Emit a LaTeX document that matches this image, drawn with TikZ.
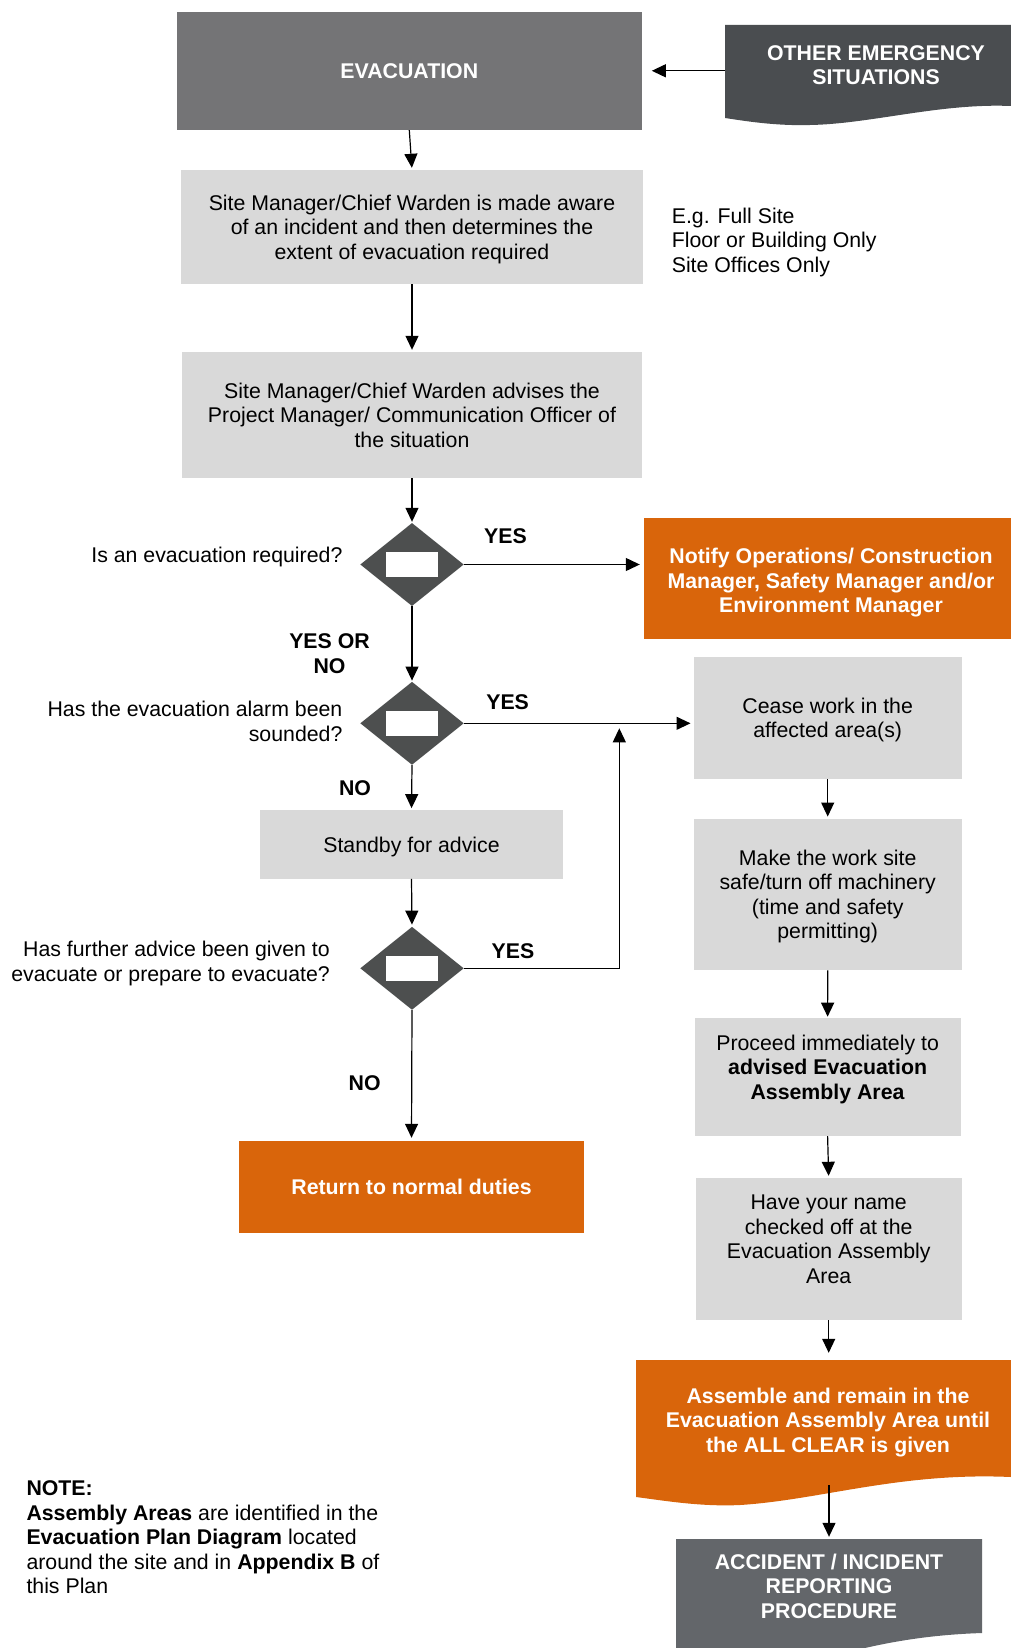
\documentclass[tikz,border=0pt]{standalone}
\usepackage{fontspec}
\setmainfont{Liberation Sans}
\usetikzlibrary{arrows.meta,shapes.geometric}
\definecolor{evacgray}{HTML}{747476}
\definecolor{darkdoc}{HTML}{4A4D50}
\definecolor{lightbox}{HTML}{D9D9D9}
\definecolor{diam}{HTML}{4D4F4F}
\definecolor{orng}{HTML}{D9650B}
\definecolor{accgray}{HTML}{63666A}
\begin{document}
\begin{tikzpicture}[x=1pt,y=-1pt,
  every node/.style={font=\fontsize{21.3}{24.5}\selectfont, inner sep=0pt, text depth=0pt},
  box/.style={rectangle, fill=lightbox, align=center},
  obox/.style={rectangle, fill=orng, align=center, text=white, font=\fontsize{21.3}{24.5}\selectfont\bfseries},
  wtxt/.style={rectangle, align=center, text=white, font=\fontsize{21.3}{24.5}\selectfont\bfseries},
  dia/.style={diamond, fill=diam, minimum width=103.5pt, minimum height=83pt, inner sep=0pt},
  hole/.style={rectangle, fill=white, minimum width=52.7pt, minimum height=25pt},
  lbl/.style={font=\fontsize{21.3}{24.5}\selectfont\bfseries},
  arr/.style={-{Triangle[length=14pt,width=13pt]}, line width=1.2pt},
  ]
\useasboundingbox (0,0) rectangle (1011,1648);
\clip (0,0) rectangle (1011,1648);

% top
\node[rectangle, fill=evacgray, minimum width=465.4pt, minimum height=118.4pt, text=white, font=\fontsize{21.3}{24.5}\selectfont\bfseries] (evac) at (409.3,70.8) {EVACUATION};
\fill[darkdoc] (725,25) -- (1011,25) -- (1011,106) .. controls (940,103) and (870,124) .. (810,125) .. controls (775,126) and (745,121) .. (725,118) -- cycle;
\node[wtxt, minimum width=302pt, minimum height=84pt] (other) at (876,65) {OTHER EMERGENCY\\SITUATIONS};

\node[box, minimum width=462pt, minimum height=114pt] (aware) at (412,227) {Site Manager/Chief Warden is made aware\\of an incident and then determines the\\extent of evacuation required};
\node[anchor=west, align=left] (eg) at (671.6,240) {E.g. Full Site\\Floor or Building Only\\Site Offices Only};

\node[box, minimum width=460pt, minimum height=126pt] (advise) at (412,415) {Site Manager/Chief Warden advises the\\Project Manager/ Communication Officer of\\the situation};

% decision 1
\node[dia] (d1) at (412,564.5) {};
\node[hole] (h1) at (412,564.5) {};
\node[anchor=east] (q1) at (342.6,555) {Is an evacuation required?};
\node[lbl] (y1) at (505.5,536) {YES};
\node[obox, minimum width=374pt, minimum height=121pt] (notify) at (831,578.5) {};
\node[wtxt] (notifytxt) at (831,580.5) {Notify Operations/ Construction\\Manager, Safety Manager and/or\\Environment Manager};
\node[lbl, align=center] (yn) at (329.5,653.5) {YES OR\\NO};

% decision 2
\node[dia] (d2) at (412,723.3) {};
\node[hole] (h2) at (412,723.3) {};
\node[anchor=east, align=right] (q2) at (342.6,721.5) {Has the evacuation alarm been\\sounded?};
\node[lbl] (y2) at (507.6,702) {YES};
\node[box, minimum width=268pt, minimum height=122pt] (cease) at (827.7,718) {Cease work in the\\affected area(s)};
\node[lbl] (n2) at (355,788) {NO};
\node[box, minimum width=303.7pt, minimum height=68.3pt] (standby) at (411.5,844.5) {Standby for advice};

% decision 3
\node[dia] (d3) at (412,968.3) {};
\node[hole] (h3) at (412,968.3) {};
\node[anchor=east, align=right] (q3) at (330,961.5) {Has further advice been given to\\evacuate or prepare to evacuate?};
\node[lbl] (y3) at (513,951) {YES};
\node[lbl] (n3) at (364.7,1083.5) {NO};
\node[obox, minimum width=345.8pt, minimum height=92pt] (ret) at (411.5,1187) {Return to normal duties};
\coordinate (j) at (619.3,968.3);

% right column
\node[box, minimum width=268pt, minimum height=151.3pt] (make) at (827.7,894.4) {Make the work site\\safe/turn off machinery\\(time and safety\\permitting)};
\node[box, minimum width=266pt, minimum height=117.6pt] (proceed) at (827.6,1077.2) {};
\node[align=center] (proceedtxt) at (827.6,1067) {Proceed immediately to\\\textbf{advised Evacuation}\\\textbf{Assembly Area}};
\node[box, minimum width=266pt, minimum height=142pt] (have) at (828.7,1249) {};
\node[align=center] (havetxt) at (828.7,1239) {Have your name\\checked off at the\\Evacuation Assembly\\Area};

\fill[orng] (636,1360) -- (1011,1360) -- (1011,1477) .. controls (900,1472) and (820,1500) .. (740,1505) .. controls (700,1507) and (660,1500) .. (636,1497) -- cycle;
\node[wtxt, minimum width=384pt, minimum height=130pt] (assemble) at (828,1420) {Assemble and remain in the\\Evacuation Assembly Area until\\the ALL CLEAR is given};

\fill[accgray] (676,1539) -- (982,1539) -- (982,1633) .. controls (920,1635) and (870,1645) .. (820,1660) -- (676,1660) -- cycle;
\node[wtxt, minimum width=306pt, minimum height=94pt] (accident) at (829,1586) {ACCIDENT / INCIDENT\\REPORTING\\PROCEDURE};

\node[anchor=west, align=left] (note) at (26.3,1537.5) {\textbf{NOTE:}\\\textbf{Assembly Areas} are identified in the\\\textbf{Evacuation Plan Diagram} located\\around the site and in \textbf{Appendix B} of\\this Plan};

% connectors
\draw[arr, shorten >=9.6pt] (other.west |- evac.east) -- (evac.east);
\draw[arr, shorten >=2pt] (evac.south) -- (aware.north);
\draw[arr, shorten >=2pt] (aware.south) -- (advise.north);
\draw[arr, shorten >=1pt] (advise.south) -- (d1.north);
\draw[arr, shorten >=4pt] (d1.east) -- (d1.east -| notify.west);
\draw[arr, shorten >=1pt] (d1.south) -- (d2.north);
\draw[arr, shorten >=3pt] (d2.east) -- (d2.east -| cease.west);
\draw[arr, shorten >=2pt] (d2.south) -- (standby.north);
\draw[arr, shorten >=2pt] (standby.south) -- (d3.north);
\draw[arr, shorten >=3pt] (d3.south) -- (ret.north);
\draw[arr, shorten >=5pt] (d3.east) -- (j) -- (j |- d2.east);
\draw[arr, shorten >=2pt] (cease.south) -- (make.north);
\draw[arr, shorten >=1.5pt] (make.south) -- (proceed.north);
\draw[arr, shorten >=2pt] (proceed.south) -- (have.north);
\draw[arr, shorten >=2pt] (have.south) -- (have.south |- assemble.north);
\draw[arr, shorten >=2pt] (assemble.south -| accident.north) -- (accident.north);
\end{tikzpicture}
\end{document}
